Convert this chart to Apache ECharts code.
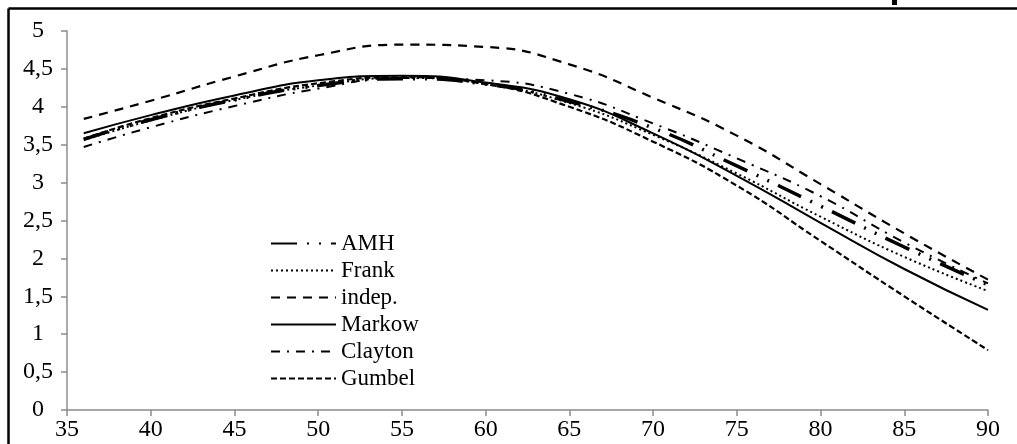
<!DOCTYPE html>
<html>
<head>
<meta charset="utf-8">
<script src="https://cdn.jsdelivr.net/npm/echarts@6/dist/echarts.min.js"></script>
<style>
  html, body { margin: 0; padding: 0; background: #fff; }
  #main { width: 1017px; height: 444px; }
</style>
</head>
<body>
<div id="main"></div>
<script>
// ages on the x axis
const ages = [36, 40, 45, 50, 55, 60, 65, 70, 75, 80, 85, 90]

// values
const amh     = [3.57, 3.83, 4.09, 4.28, 4.37, 4.30, 4.07, 3.72, 3.22, 2.69, 2.15, 1.65]
const frank   = [3.56, 3.82, 4.09, 4.28, 4.38, 4.30, 4.05, 3.63, 3.12, 2.55, 2.02, 1.57]
const indep   = [3.84, 4.08, 4.40, 4.68, 4.82, 4.79, 4.56, 4.12, 3.62, 2.98, 2.33, 1.72]
const markow  = [3.65, 3.89, 4.15, 4.35, 4.41, 4.32, 4.10, 3.65, 3.09, 2.47, 1.86, 1.32]
const clayton = [3.47, 3.73, 4.01, 4.24, 4.38, 4.35, 4.17, 3.78, 3.32, 2.82, 2.21, 1.67]
const gumbel  = [3.58, 3.85, 4.11, 4.31, 4.39, 4.30, 4.00, 3.54, 2.96, 2.23, 1.50, 0.79]

const yTickLabels = ['0', '0,5', '1', '1,5', '2', '2,5', '3', '3,5', '4', '4,5', '5']

const font = 'Liberation Serif'

function pairs(vals) {
  return ages.map((a, i) => [a, vals[i]])
}

function line(name, vals, width, dash) {
  return {
    name: name,
    type: 'line',
    smooth: true,
    symbol: 'none',
    data: pairs(vals),
    lineStyle: { color: '#000', width: width, type: dash, cap: 'butt' },
    itemStyle: { color: '#000' }
  }
}

const chart = echarts.init(document.getElementById('main'))

chart.setOption({
  animation: false,
  grid: { left: 67, right: 29, top: 31, bottom: 34 },
  legend: {
    orient: 'vertical',
    left: 265,
    top: 225,
    itemWidth: 65,
    itemHeight: 14,
    itemGap: 0,
    itemStyle: { opacity: 0 },
    textStyle: { fontFamily: font, fontSize: 23, color: '#000', lineHeight: 27 },
    data: ['AMH', 'Frank', 'indep.', 'Markow', 'Clayton', 'Gumbel']
  },
  xAxis: {
    type: 'value',
    min: 35,
    max: 90,
    interval: 5,
    splitLine: { show: false },
    axisLine: { lineStyle: { color: '#8c8c8c', width: 1.5 } },
    axisTick: { length: 6, lineStyle: { color: '#8c8c8c', width: 1.5 } },
    axisLabel: { margin: 8, fontFamily: font, fontSize: 24, color: '#000' }
  },
  yAxis: {
    type: 'value',
    min: 0,
    max: 5,
    interval: 0.5,
    splitLine: { show: false },
    axisLine: { show: true, lineStyle: { color: '#8c8c8c', width: 1.5 } },
    axisTick: { show: true, length: 6, lineStyle: { color: '#8c8c8c', width: 1.5 } },
    axisLabel: {
      margin: 29, align: 'center', fontFamily: font, fontSize: 24, color: '#000',
      formatter: v => yTickLabels[Math.round(v * 2)]
    }
  },
  series: [
    line('AMH', amh, 3.5, [26, 10, 2, 10, 2, 10]),
    line('Frank', frank, 2, [2, 3]),
    line('indep.', indep, 2.2, [9, 7]),
    line('Markow', markow, 2, 'solid'),
    line('Clayton', clayton, 2, [9, 7, 2, 7]),
    line('Gumbel', gumbel, 2.2, [6, 3])
  ],
  graphic: [
    { type: 'line', shape: { x1: 8.5, y1: 8.5, x2: 1017, y2: 8.5 }, style: { stroke: '#000', lineWidth: 2.5 } },
    { type: 'line', shape: { x1: 8.5, y1: 8.5, x2: 8.5, y2: 444 }, style: { stroke: '#000', lineWidth: 2.5 } },
    { type: 'rect', shape: { x: 892, y: 0, width: 5, height: 5 }, style: { fill: '#000' } }
  ]
})
</script>
</body>
</html>
